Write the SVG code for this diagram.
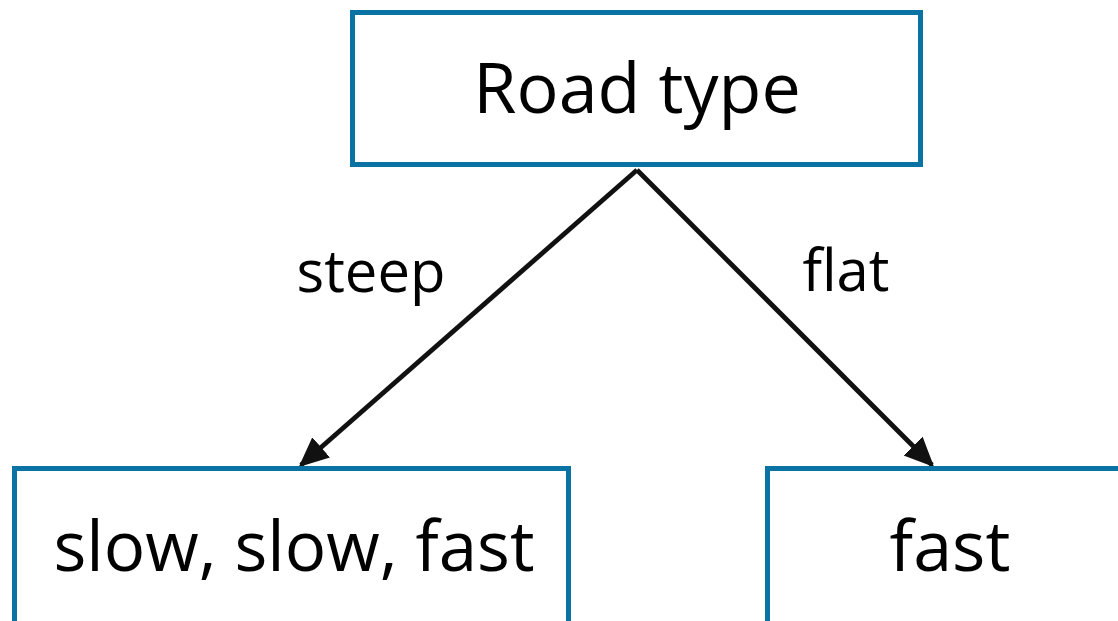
<svg xmlns="http://www.w3.org/2000/svg" width="1118" height="621" viewBox="0 0 1118 621">
  <style>
    .node rect { fill: #ffffff; stroke: #0a73a3; stroke-width: 5; }
    .node text { font-family: "Open Sans", "Noto Sans", sans-serif; font-size: 70px; fill: #000000; text-anchor: middle; }
    .node text.long { font-size: 69px; }
    .edge line { stroke: #111111; stroke-width: 4.8; }
    .edge text { font-family: "Open Sans", "Noto Sans", sans-serif; font-size: 58px; fill: #000000; text-anchor: middle; }
  </style>
  <defs>
    <marker id="arrow" viewBox="0 0 10 10" refX="9" refY="5" markerWidth="6.2" markerHeight="6.2" markerUnits="strokeWidth" orient="auto">
      <path d="M0,0.5 L10,5 L0,9.5 z" fill="#111111"/>
    </marker>
  </defs>

  <g id="edges" class="edge">
    <line x1="637" y1="170" x2="301" y2="465" marker-end="url(#arrow)"/>
    <line x1="637" y1="170" x2="932" y2="465" marker-end="url(#arrow)"/>
    <text x="371" y="292">steep</text>
    <text x="846" y="291">flat</text>
  </g>

  <g id="node-road-type" class="node">
    <rect x="352.5" y="12.5" width="568" height="152"/>
    <text x="637" y="113">Road type</text>
  </g>

  <g id="node-steep" class="node">
    <rect x="14.5" y="468.5" width="554" height="160"/>
    <text class="long" x="294" y="571">slow, slow, fast</text>
  </g>

  <g id="node-flat" class="node">
    <rect x="767.5" y="468.5" width="360" height="160"/>
    <text x="950" y="571">fast</text>
  </g>
</svg>
